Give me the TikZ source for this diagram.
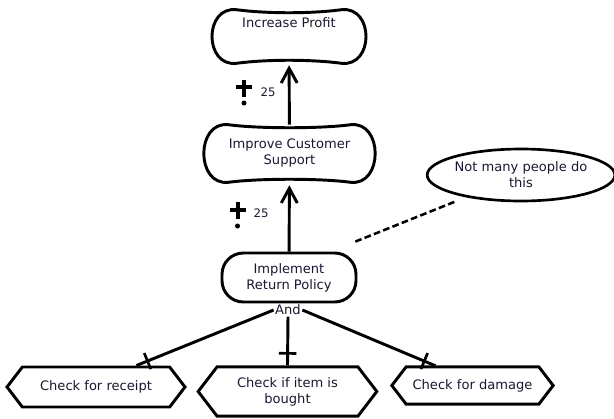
\documentclass[tikz,border=0pt]{standalone}
\usepackage{fontspec}
\setmainfont{DejaVu Sans}
\usepackage{tikz}
\usetikzlibrary{arrows.meta, shapes.geometric, shapes.symbols, decorations.markings}
\definecolor{textocolor}{RGB}{24,24,48}

\tikzset{
  goal/.style={minimum width=78pt, minimum height=39.75pt, inner sep=0pt, align=center},
  goal line/.style={line width=2.2pt},
  task/.style={draw, line width=2.2pt, rounded corners=16pt, minimum width=100.5pt, minimum height=36.75pt, align=center},
  hexa/.style={draw, line width=2.2pt, signal, signal to=west and east, signal pointer angle=105, inner sep=0pt, align=center},
  note/.style={draw, ellipse, line width=2pt, minimum width=136.5pt, minimum height=39pt, inner sep=0pt, align=center},
  weight/.style={font=\fontsize{8.8}{10}\selectfont},
  contrib/.style={line width=2.2pt, -{Straight Barb[length=11pt, width=12pt]}},
  andlink/.style={line width=2.2pt, postaction={decorate, decoration={markings,
      mark=at position -9pt with {\draw[line width=2pt] (0,-6.5pt) -- (0,6.5pt);}}}}
}

% Contorno de objetivo blando
\newcommand{\softgoal}[1]{%
  \draw[goal line] (#1.north west) .. controls +(30,4) and +(-30,4) .. (#1.north east)
    .. controls +(33,-4) and +(33,4) .. (#1.south east)
    .. controls +(-30,-4) and +(30,-4) .. (#1.south west)
    .. controls +(-33,4) and +(-33,-4) .. (#1.north west) -- cycle;}

\begin{document}
\begin{tikzpicture}[x=0.75pt, y=-0.75pt, font=\fontsize{9.8}{12}\selectfont, text=textocolor]

\useasboundingbox (0,0) rectangle (614,418);

% Objetivos
\node[goal, text depth=21pt] (profit) at (289,36.5) {Increase Profit};
\node[goal, minimum width=86.25pt, minimum height=42.75pt] (support) at (289.5,153.5) {Improve Customer\\Support};
\softgoal{profit}
\softgoal{support}

% Tarea y comentario
\node[task] (policy) at (289,277.5) {Implement\\Return Policy};
\node[note] (comment) at (521,175) {Not many people do\\this};
\draw[line width=1.9pt, dash pattern=on 5pt off 2.5pt, shorten <=20pt, shorten >=9pt] (policy.32) -- (comment.202);

% Contribuciones
\draw[contrib, shorten >=1.5pt] (support) -- (profit);
\draw[contrib, shorten >=2.25pt] (policy) -- (support);
\node[weight] (w1) at (268,92) {25};
\node[weight] (w2) at (261,213) {25};
\draw[line width=3pt] (244,80) -- (244,97) (236,87) -- (252,87);
\fill (244,103) circle (2.5);
\draw[line width=3pt] (237.5,202) -- (237.5,219) (229.5,210) -- (245.5,210);
\fill (237.5,226) circle (2.5);

% Descomposición
\node[inner sep=1pt] (and) at (288,310) {And};
\node[hexa, minimum width=133.5pt, minimum height=30pt] (receipt) at (96,387) {Check for receipt};
\node[hexa, minimum width=134pt, minimum height=37pt] (bought) at (287.5,391.5) {Check if item is\\bought};
\node[hexa, minimum width=121pt, minimum height=28pt] (damage) at (472.5,385.5) {Check for damage};
\draw[andlink] (and.west) -- (receipt.28);
\draw[andlink] (and.south) -- (bought.north);
\draw[andlink] (and.east) -- (damage.152);

\end{tikzpicture}
\end{document}
